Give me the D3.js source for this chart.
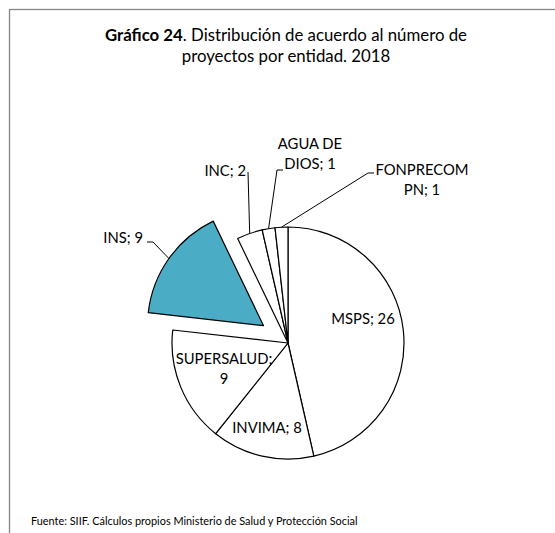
<!DOCTYPE html>
<html><head><meta charset="utf-8">
<script src="https://cdn.jsdelivr.net/npm/d3@7"></script>
<style>html,body{margin:0;padding:0;background:#fff;}svg{display:block;}</style>
</head><body>
<script>
const categories = ["MSPS", "INVIMA", "SUPERSALUD", "INS", "INC", "AGUA DE DIOS", "FONPRECOMPN"];
const values = [26, 8, 9, 9, 2, 1, 1];
const labelLines = [["MSPS; 26"], ["INVIMA; 8"], ["SUPERSALUD;", "9"], ["INS; 9"], ["INC; 2"], ["AGUA DE", "DIOS; 1"], ["FONPRECOM", "PN; 1"]];
const exploded = ["INS"];

const W = 555, H = 533;
const cx = 288, cy = 343, R = 116, explode = 30;
const font = "Lato, 'Open Sans', sans-serif";

const svg = d3.select("body").append("svg").attr("width", W).attr("height", H);
svg.append("rect").attr("width", W).attr("height", H).attr("fill", "#fff");
svg.append("rect").attr("x", 9.5).attr("y", 9.5).attr("width", 560).attr("height", 560)
  .attr("fill", "none").attr("stroke", "#868686").attr("stroke-width", 1.3);

// title
const t1 = svg.append("text").attr("x", 286).attr("y", 41).attr("text-anchor", "middle")
  .attr("font-family", font).attr("font-size", 16.8).attr("fill", "#000");
t1.append("tspan").attr("font-weight", "bold").text("Gráfico 24");
t1.append("tspan").text(". Distribución de acuerdo al número de");
svg.append("text").attr("x", 286).attr("y", 62).attr("text-anchor", "middle")
  .attr("font-family", font).attr("font-size", 16.8).text("proyectos por entidad. 2018");

svg.append("text").attr("x", 31).attr("y", 525).attr("font-family", font).attr("font-size", 10.9)
  .text("Fuente: SIIF. Cálculos propios Ministerio de Salud y Protección Social");

const pie = d3.pie().sort(null).value(d => d.v);
const data = pie(categories.map((c, i) => ({c, v: values[i], lines: labelLines[i]})));
const arc = d3.arc().innerRadius(0).outerRadius(R);

function offsetOf(d) {
  if (!exploded.includes(d.data.c)) return [0, 0];
  const a = (d.startAngle + d.endAngle) / 2;
  return [Math.sin(a) * explode, -Math.cos(a) * explode];
}

const g = svg.append("g").attr("transform", `translate(${cx},${cy})`);
g.selectAll("path.slice").data(data).enter().append("path")
  .attr("class", "slice")
  .attr("transform", d => { const o = offsetOf(d); return `translate(${o[0]},${o[1]})`; })
  .attr("d", arc)
  .attr("fill", d => exploded.includes(d.data.c) ? "#4BACC6" : "#fff")
  .attr("stroke", "#000").attr("stroke-width", 1.2).attr("stroke-linejoin", "round");

// label layout (relative to pie center): anchor, position, optional leader elbow
const layout = {
  "MSPS":        {x: 75, y: -24, anchor: "middle"},
  "INVIMA":      {x: -21, y: 85, anchor: "middle"},
  "SUPERSALUD":  {x: -64, y: 26, anchor: "middle"},
  "INS":         {x: -145, y: -105, anchor: "end", elbow: [[-135, -101], [-141, -101]]},
  "INC":         {x: -42, y: -172, anchor: "end", elbow: [[-40, -171], [-40, -171]]},
  "AGUA DE DIOS":{x: 22, y: -189, anchor: "middle", elbow: [[-11, -173], [-5, -173]]},
  "FONPRECOMPN": {x: 134, y: -163, anchor: "middle", elbow: [[80, -170], [86, -170]]}
};
const lineH = 20.5;

data.forEach(d => {
  const L = layout[d.data.c];
  const o = offsetOf(d);
  if (L.elbow) {
    const a = (d.startAngle + d.endAngle) / 2;
    const p0 = [o[0] + Math.sin(a) * R, o[1] - Math.cos(a) * R];
    const pts = [p0, L.elbow[0], L.elbow[1]];
    g.append("path").attr("d", d3.line()(pts)).attr("fill", "none")
      .attr("stroke", "#000").attr("stroke-width", 1);
  }
  const n = d.data.lines.length;
  const t = g.append("text").attr("text-anchor", L.anchor)
    .attr("font-family", font).attr("font-size", 14.8).attr("fill", "#000");
  d.data.lines.forEach((s, i) => {
    t.append("tspan").attr("x", L.x).attr("y", L.y + (i - (n - 1) / 2) * lineH).attr("dy", "0.35em").text(s);
  });
});
</script>
</body></html>
